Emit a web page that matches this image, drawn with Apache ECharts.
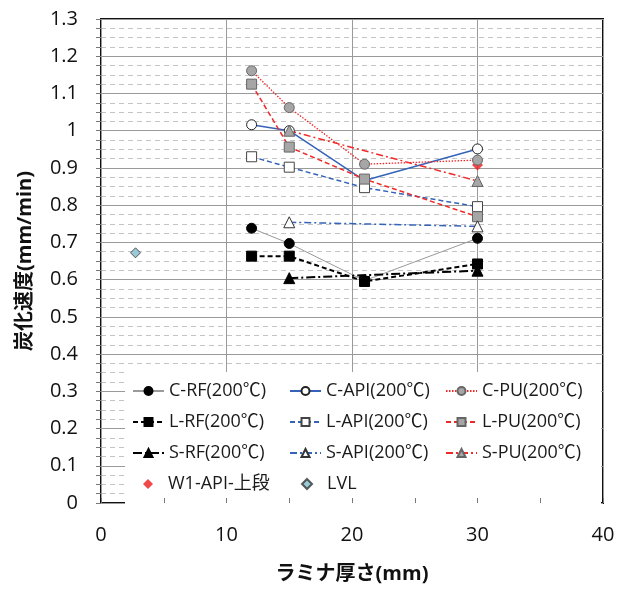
<!DOCTYPE html>
<html>
<head>
<meta charset="utf-8">
<script src="https://cdn.jsdelivr.net/npm/echarts@6/dist/echarts.min.js"></script>
<style>
  html, body { margin: 0; padding: 0; background: #fff; }
  #grf { width: 630px; height: 589px; }
</style>
</head>
<body>
<div id="grf"></div>
<script>
// Dados
var xC = [12, 15, 21, 30];
var cRF = [0.738, 0.697, 0.597, 0.711];
var cAPI = [1.016, 1.0, 0.866, 0.951];
var cPU = [1.161, 1.062, 0.910, 0.921];
var lRF = [0.663, 0.663, 0.595, 0.642];
var lAPI = [0.930, 0.902, 0.847, 0.796];
var lPU = [1.125, 0.956, 0.870, 0.769];
var xS = [15, 30];
var sRF = [0.604, 0.624];
var sAPI = [0.754, 0.743];
var sPU = [1.0, 0.865];
var xW1 = [30];
var w1 = [0.908];
var xLVL = [2.75];
var lvl = [0.672];

var FONTE = "'Open Sans', 'Noto Sans CJK JP', sans-serif";
var AZUL = '#3563B8';
var VERMELHO = '#F02828';
var CINZA = '#A6A6A6';

function pares(xs, ys) {
	var out = [];
	for (var i = 0; i < xs.length; i++) {
		out.push([xs[i], ys[i]]);
	}
	return out;
}

function serieLinha(nome, xs, ys, simbolo, corSimbolo, bordaSimbolo, corLinha, tipo, largura) {
	return {
		name: nome,
		type: 'line',
		data: pares(xs, ys),
		symbol: simbolo,
		symbolSize: simbolo == 'triangle' ? 11 : 10,
		showAllSymbol: true,
		itemStyle: { color: corSimbolo, borderColor: bordaSimbolo, borderWidth: 1 },
		lineStyle: { color: corLinha, type: tipo, width: largura },
		emphasis: { disabled: true },
		animation: false
	};
}

var grafico = echarts.init(document.getElementById('grf'));

function legendaColuna(left, nomes) {
	return {
		orient: 'vertical',
		left: left,
		top: 382,
		padding: 0,
		itemWidth: 31,
		itemHeight: 10,
		itemGap: 13,
		selectedMode: false,
		textStyle: { fontFamily: FONTE, fontSize: 18, color: '#1a1a1a' },
		data: nomes,
		z: 6
	};
}

// legenda so com o losango (series de dispersao)
function legendaPonto(left, nome) {
	return {
		left: left,
		top: 475,
		padding: 0,
		itemWidth: 10,
		itemHeight: 10,
		selectedMode: false,
		textStyle: { fontFamily: FONTE, fontSize: 18, color: '#1a1a1a', padding: [0, 0, 0, 10] },
		data: [{ name: nome, icon: 'diamond' }],
		z: 6
	};
}

var opcoes = {
	animation: false,
	grid: {
		left: 101, right: 27, top: 19, bottom: 84,
		show: true,
		borderColor: '#111',
		borderWidth: 2,
		backgroundColor: '#fff'
	},
	graphic: [{
		type: 'rect',
		z: 3,
		shape: { x: 125, y: 372, width: 476, height: 132 },
		style: { fill: '#fff' }
	}],
	legend: [
		legendaColuna(132, ['C-RF(200℃)', 'L-RF(200℃)', 'S-RF(200℃)']),
		legendaColuna(289, ['C-API(200℃)', 'L-API(200℃)', 'S-API(200℃)']),
		legendaColuna(445, ['C-PU(200℃)', 'L-PU(200℃)', 'S-PU(200℃)']),
		legendaPonto(143, 'W1-API-上段'),
		legendaPonto(301, 'LVL')
	],
	xAxis: [{
		type: 'value', min: 0, max: 40, interval: 10,
		axisLine: { show: false },
		axisTick: { show: false },
		axisLabel: { fontFamily: FONTE, fontSize: 20, color: '#111', margin: 22 },
		splitLine: { show: true, lineStyle: { color: '#9a9a9a', width: 1 } },
		name: 'ラミナ厚さ(mm)',
		nameLocation: 'middle',
		nameGap: 61,
		nameTextStyle: { fontFamily: FONTE, fontSize: 20, fontWeight: 'bold', color: '#111' }
	}, {
		type: 'value', min: 0, max: 40, interval: 10, position: 'bottom',
		z: 5,
		axisLine: { show: false },
		axisLabel: { show: false },
		splitLine: { show: false },
		axisTick: { show: true, inside: true, length: 5, lineStyle: { color: '#777' } },
		minorTick: { show: true, splitNumber: 2, length: 5, lineStyle: { color: '#777' } }
	}],
	yAxis: [{
		type: 'value', min: 0, max: 1.3, interval: 0.1,
		axisLine: { show: false },
		axisTick: { show: false },
		axisLabel: { fontFamily: FONTE, fontSize: 20, color: '#111', margin: 23 },
		splitLine: { show: true, lineStyle: { color: '#9a9a9a', width: 1 } },
		minorTick: { show: true, splitNumber: 4, length: 5, lineStyle: { color: '#777' } },
		minorSplitLine: { show: true, lineStyle: { color: '#c4c4c4', type: [5, 4], width: 1 } },
		name: '炭化速度(mm/min)',
		nameLocation: 'middle',
		nameRotate: 90,
		nameGap: 66,
		nameTextStyle: { fontFamily: FONTE, fontSize: 20, fontWeight: 'bold', color: '#111' }
	}, {
		type: 'value', min: 0, max: 1.3, interval: 0.1, position: 'right',
		z: 5,
		axisLine: { show: false },
		axisLabel: { show: false },
		splitLine: { show: false },
		axisTick: { show: true, inside: true, length: 5, lineStyle: { color: '#777' } },
		minorTick: { show: true, splitNumber: 4, length: 5, lineStyle: { color: '#777' } }
	}],
	series: [
		serieLinha('C-RF(200℃)', xC, cRF, 'circle', '#000', '#000', '#9a9a9a', 'solid', 1),
		serieLinha('C-API(200℃)', xC, cAPI, 'circle', '#fff', '#222', AZUL, 'solid', 1.5),
		serieLinha('C-PU(200℃)', xC, cPU, 'circle', CINZA, '#666', VERMELHO, [1.5, 1.5], 1.3),
		serieLinha('L-RF(200℃)', xC, lRF, 'rect', '#000', '#000', '#000', [5, 3], 2),
		serieLinha('L-API(200℃)', xC, lAPI, 'rect', '#fff', '#444', AZUL, [5, 3], 1.5),
		serieLinha('L-PU(200℃)', xC, lPU, 'rect', CINZA, '#666', VERMELHO, [5, 3], 1.5),
		serieLinha('S-RF(200℃)', xS, sRF, 'triangle', '#000', '#000', '#000', [9, 3, 2, 3], 2),
		serieLinha('S-API(200℃)', xS, sAPI, 'triangle', '#fff', '#333', AZUL, [7, 3, 2, 3], 1.5),
		serieLinha('S-PU(200℃)', xS, sPU, 'triangle', CINZA, '#666', VERMELHO, [7, 3, 2, 3], 1.5),
		{
			name: 'W1-API-上段', type: 'scatter', data: pares(xW1, w1),
			symbol: 'diamond', symbolSize: 11,
			itemStyle: { color: '#EE1C1C' },
			emphasis: { disabled: true }
		},
		{
			name: 'LVL', type: 'scatter', data: pares(xLVL, lvl),
			symbol: 'diamond', symbolSize: 10,
			itemStyle: { color: '#82BCCD', borderColor: '#333', borderWidth: 1 },
			emphasis: { disabled: true }
		}
	]
};

grafico.setOption(opcoes);
</script>
</body>
</html>
